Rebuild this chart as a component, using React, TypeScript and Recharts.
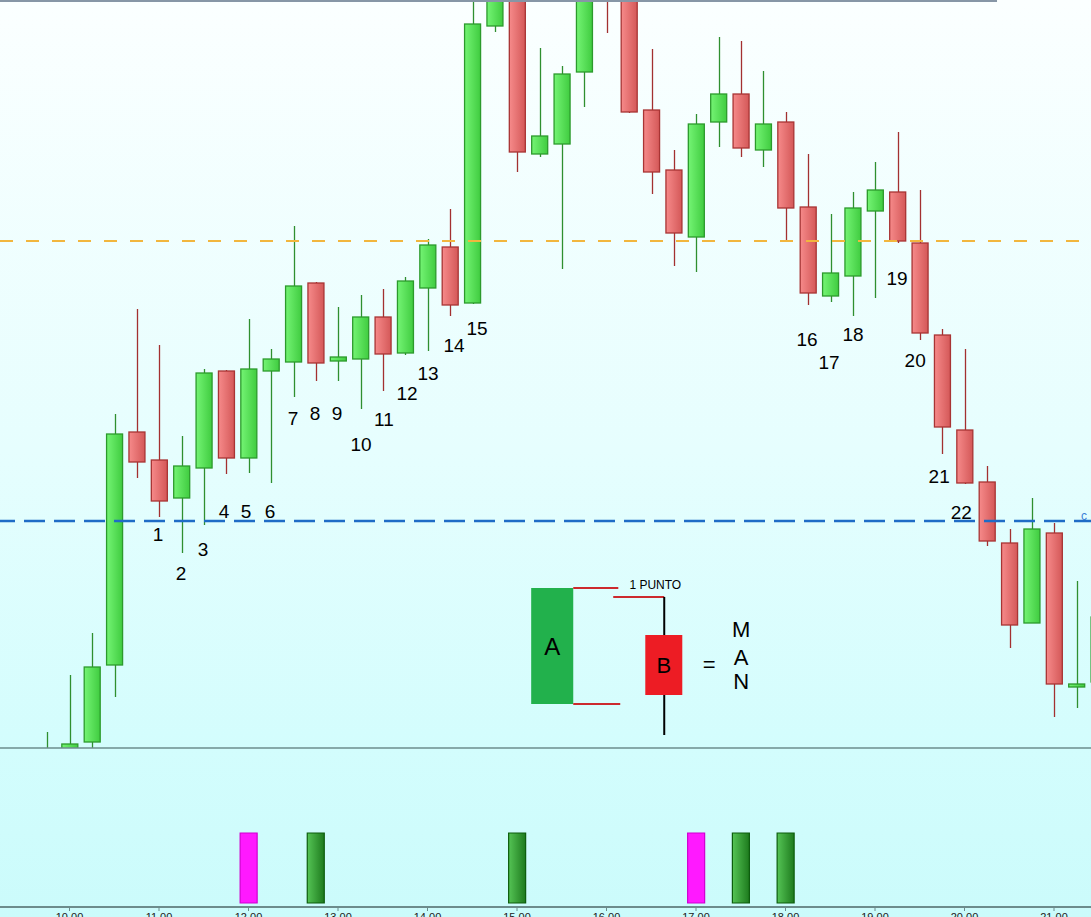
import React from "react"
import {
  ComposedChart,
  Bar,
  Scatter,
  XAxis,
  YAxis,
  ReferenceLine,
  ReferenceArea,
  Cell,
} from "recharts"

// 15 minute candles, time = minutes from midnight
const times = [
  585, 600, 615, 630, 645, 660, 675, 690, 705, 720, 735, 750, 765, 780, 795, 810,
  825, 840, 855, 870, 885, 900, 915, 930, 945, 960, 975, 990, 1005, 1020, 1035, 1050,
  1065, 1080, 1095, 1110, 1125, 1140, 1155, 1170, 1185, 1200, 1215, 1230, 1245, 1260, 1275, 1290,
]
const opens = [
  96.0, 98.6, 100.6, 108.3, 131.6, 128.8, 125.0, 128.0, 137.7, 129.0, 137.7, 138.6, 146.5, 138.7, 138.9, 143.1,
  139.5, 146.0, 150.1, 144.5, 172.2, 178.0, 159.4, 160.4, 167.6, 178.0, 177.0, 163.8, 157.8, 151.1, 162.6, 165.4,
  159.8, 162.6, 154.1, 145.2, 147.2, 153.7, 155.6, 150.5, 141.3, 131.8, 126.6, 120.5, 112.5, 121.5, 106.1, 106.6,
]
const highs = [
  101.6, 107.3, 111.5, 133.4, 143.9, 140.3, 131.2, 137.9, 137.8, 142.9, 139.9, 152.2, 146.6, 144.1, 145.3, 145.9,
  147.1, 150.9, 153.9, 176.0, 177.5, 179.0, 170.0, 168.2, 177.0, 179.0, 178.0, 169.9, 159.8, 163.4, 171.1, 170.7,
  167.7, 163.6, 159.4, 153.4, 155.6, 158.6, 161.6, 155.8, 141.9, 139.9, 128.2, 121.9, 125.0, 122.5, 116.7, 115.0,
]
const lows = [
  95.0, 98.0, 99.5, 105.1, 127.0, 123.1, 119.5, 122.3, 127.4, 127.5, 126.5, 135.1, 136.7, 136.7, 133.9, 135.7,
  139.3, 139.7, 143.2, 144.4, 171.6, 157.6, 159.1, 147.9, 164.1, 171.5, 163.5, 155.4, 148.2, 147.6, 160.1, 159.1,
  158.1, 150.8, 144.3, 144.6, 143.2, 145.0, 150.5, 140.8, 129.4, 126.4, 120.2, 110.0, 112.5, 103.1, 104.0, 105.5,
]
const closes = [
  97.5, 100.4, 108.1, 131.4, 128.6, 124.7, 128.2, 137.5, 129.0, 137.9, 138.9, 146.2, 138.5, 139.1, 143.1, 139.4,
  146.7, 150.3, 144.3, 172.4, 176.5, 159.6, 161.2, 167.4, 176.0, 176.0, 163.6, 157.6, 151.5, 162.4, 165.4, 160.0,
  162.4, 154.0, 145.5, 147.5, 154.0, 155.8, 150.7, 141.5, 132.1, 126.5, 120.7, 112.3, 121.9, 106.4, 106.4, 113.1,
]

// numbered swings
const waveNames = ["1", "2", "3", "4", "5", "6", "7", "8", "9", "10", "11", "12", "13", "14", "15", "16", "17", "18", "19", "20", "21", "22"]
const waveTimes = [659.3, 674.7, 689.5, 703.6, 718.3, 734.4, 749.8, 764.6, 779.3, 795.4, 810.8, 826.3, 840.3, 857.8, 873.2, 1094.4, 1109.2, 1125.3, 1154.8, 1166.9, 1183.0, 1197.8]
const wavePrices = [121.4, 117.5, 119.9, 123.7, 123.7, 123.7, 133.0, 133.5, 133.5, 130.4, 132.9, 135.5, 137.5, 140.3, 142.0, 140.9, 138.6, 141.4, 147.0, 138.8, 127.2, 123.6]

// horizontal levels
const upperLevel = 150.7
const lowerLevel = 122.7

// signal panel
const signalTimes = [720, 765, 900, 1020, 1050, 1080]
const signalKinds = ["m", "g", "g", "m", "g", "g"]
const signalValues = [1, 1, 1, 1, 1, 1]

const hourTicks = [600, 660, 720, 780, 840, 900, 960, 1020, 1080, 1140, 1200, 1260]
const hourLabels = ["10.00", "11.00", "12.00", "13.00", "14.00", "15.00", "16.00", "17.00", "18.00", "19.00", "20.00", "21.00"]

// "A / B = MAN" drawing, anchored in time / price
const diagramTexts = [
  { t: 992.7, p: 116.3, s: "1 PUNTO" },
  { t: 1028.9, p: 108.4, s: "=" },
  { t: 1050.3, p: 111.9, s: "M" },
  { t: 1050.3, p: 109.1, s: "A" },
  { t: 1050.3, p: 106.7, s: "N" },
  { t: 1280.1, p: 123.2, s: "c" },
]

const T_DOMAIN: [number, number] = [553.4, 1284.8]
const P_DOMAIN: [number, number] = [100, 174.8]
const FONT = "'Liberation Sans', Arial, sans-serif"

const candles = times.map((t, i) => ({
  t,
  open: opens[i],
  high: highs[i],
  low: lows[i],
  close: closes[i],
}))
const waves = waveNames.map((n, i) => ({ t: waveTimes[i], p: wavePrices[i], n }))
const signals = signalTimes.map((t, i) => ({ t, v: signalValues[i], kind: signalKinds[i] }))

function Candle(props: any) {
  const { x, y, width, height, payload } = props
  if (x == null || y == null) return null
  const { open, close, high, low } = payload
  const up = close >= open
  const top = Math.min(y, y + height)
  const h = Math.abs(height)
  const ratio = h / (high - low || 1)
  const cx = Math.round(x + width / 2) + 0.5
  const bodyTop = top + (high - Math.max(open, close)) * ratio
  const bodyH = Math.max(Math.abs(open - close) * ratio, 2)
  const wick = up ? "#2f8f2f" : "#a33030"
  return (
    <g>
      <line x1={cx} x2={cx} y1={top} y2={top + h} stroke={wick} strokeWidth={1.3} />
      <rect
        x={x + 0.5}
        y={bodyTop}
        width={width - 1}
        height={bodyH}
        fill={up ? "url(#upBody)" : "url(#dnBody)"}
        stroke={up ? "#2c9a2c" : "#a83434"}
        strokeWidth={1.3}
      />
    </g>
  )
}

function WaveLabel(props: any) {
  const { cx, cy, payload } = props
  return (
    <text x={cx} y={cy} textAnchor="middle" dominantBaseline="central" fontSize={19} fontFamily={FONT} fill="#000">
      {payload.n}
    </text>
  )
}

function DiagramText(props: any) {
  const { cx, cy, payload } = props
  const small = payload.s === "1 PUNTO" || payload.s === "c"
  return (
    <text
      x={cx}
      y={cy}
      textAnchor="middle"
      dominantBaseline="central"
      fontSize={small ? 12 : 22}
      fontFamily={FONT}
      fill={payload.s === "c" ? "#3a7fd6" : "#000"}
    >
      {payload.s}
    </text>
  )
}

export default function App() {
  return (
    <div
      style={{
        position: "absolute",
        left: 0,
        top: 0,
        width: 1091,
        height: 917,
        overflow: "hidden",
        background: "linear-gradient(to bottom, #fbffff 0px, #e6fefe 450px, #d3fdfd 748px, #cbfbfb 917px)",
      }}
    >
      <ComposedChart width={1091} height={749} data={candles} margin={{ top: 0, right: 0, bottom: 1, left: 0 }}>
        <defs>
          <linearGradient id="upBody" x1="0" y1="0" x2="1" y2="0">
            <stop offset="0%" stopColor="#74f474" />
            <stop offset="100%" stopColor="#40cc40" />
          </linearGradient>
          <linearGradient id="dnBody" x1="0" y1="0" x2="1" y2="0">
            <stop offset="0%" stopColor="#f68a8a" />
            <stop offset="100%" stopColor="#d45858" />
          </linearGradient>
        </defs>
        <XAxis type="number" dataKey="t" domain={T_DOMAIN} allowDataOverflow hide />
        <XAxis xAxisId="ann" type="number" dataKey="t" domain={T_DOMAIN} allowDataOverflow hide />
        <YAxis type="number" domain={P_DOMAIN} allowDataOverflow hide />

        <ReferenceLine
          xAxisId="ann"
          segment={[{ x: T_DOMAIN[0], y: 174.7 }, { x: 1221.8, y: 174.7 }]}
          stroke="#8796a6"
          strokeWidth={2}
        />
        <ReferenceLine xAxisId="ann" y={upperLevel} stroke="#f2b63e" strokeWidth={2} strokeDasharray="13 13" />
        <ReferenceLine
          xAxisId="ann"
          y={lowerLevel}
          stroke="#1f6cc6"
          strokeWidth={2.5}
          strokeDasharray="21 9"
          strokeDashoffset={6}
        />
        <ReferenceLine xAxisId="ann" y={100} stroke="#6c8c8c" strokeWidth={1.5} />

        <Bar
          dataKey={(d: any) => [d.low, d.high]}
          barSize={17}
          shape={<Candle />}
          isAnimationActive={false}
        />

        {/* A / B drawing */}
        <ReferenceArea
          xAxisId="ann"
          x1={909.5}
          x2={937.7}
          y1={104.4}
          y2={116.0}
          fill="#22b14c"
          fillOpacity={1}
          stroke="none"
          label={{ value: "A", position: "center", fontSize: 24, fill: "#000", fontFamily: FONT }}
        />
        <ReferenceLine xAxisId="ann" segment={[{ x: 937.7, y: 116.0 }, { x: 967.9, y: 116.0 }]} stroke="#cc2a2e" strokeWidth={2} />
        <ReferenceLine xAxisId="ann" segment={[{ x: 937.7, y: 104.4 }, { x: 969.2, y: 104.4 }]} stroke="#cc2a2e" strokeWidth={2} />
        <ReferenceLine xAxisId="ann" segment={[{ x: 964.5, y: 115.1 }, { x: 998.7, y: 115.1 }]} stroke="#cc2a2e" strokeWidth={2} />
        <ReferenceLine xAxisId="ann" segment={[{ x: 998.7, y: 115.1 }, { x: 998.7, y: 111.3 }]} stroke="#000" strokeWidth={2} />
        <ReferenceLine xAxisId="ann" segment={[{ x: 998.7, y: 105.3 }, { x: 998.7, y: 101.3 }]} stroke="#000" strokeWidth={2} />
        <ReferenceArea
          xAxisId="ann"
          x1={986.0}
          x2={1010.8}
          y1={105.3}
          y2={111.3}
          fill="#ed1c24"
          fillOpacity={1}
          stroke="none"
          label={{ value: "B", position: "center", fontSize: 22, fill: "#000", fontFamily: FONT }}
        />

        <Scatter xAxisId="ann" data={waves} dataKey="p" shape={<WaveLabel />} isAnimationActive={false} />
        <Scatter xAxisId="ann" data={diagramTexts} dataKey="p" shape={<DiagramText />} isAnimationActive={false} />
      </ComposedChart>

      <ComposedChart width={1091} height={200} data={signals} margin={{ top: 0, right: 0, bottom: 0, left: 0 }}>
        <defs>
          <linearGradient id="sigGreen" x1="0" y1="0" x2="1" y2="0">
            <stop offset="0%" stopColor="#55c455" />
            <stop offset="100%" stopColor="#1d7a1d" />
          </linearGradient>
        </defs>
        <XAxis
          type="number"
          dataKey="t"
          domain={T_DOMAIN}
          allowDataOverflow
          ticks={hourTicks}
          tickFormatter={(v: number) => hourLabels[hourTicks.indexOf(v)] ?? ""}
          height={42}
          tickSize={4}
          axisLine={{ stroke: "#6c8c8c", strokeWidth: 2 }}
          tickLine={{ stroke: "#6c8c8c" }}
          tick={{ fontSize: 11, fill: "#222", fontFamily: FONT }}
          interval={0}
        />
        <YAxis type="number" domain={[-0.057, 2.2]} allowDataOverflow hide />
        <Bar dataKey="v" barSize={17} isAnimationActive={false}>
          {signals.map((s, i) => (
            <Cell
              key={i}
              fill={s.kind === "m" ? "#ff19ff" : "url(#sigGreen)"}
              stroke={s.kind === "m" ? "#d000d0" : "#0c5c0c"}
              strokeWidth={1.2}
            />
          ))}
        </Bar>
      </ComposedChart>
    </div>
  )
}
